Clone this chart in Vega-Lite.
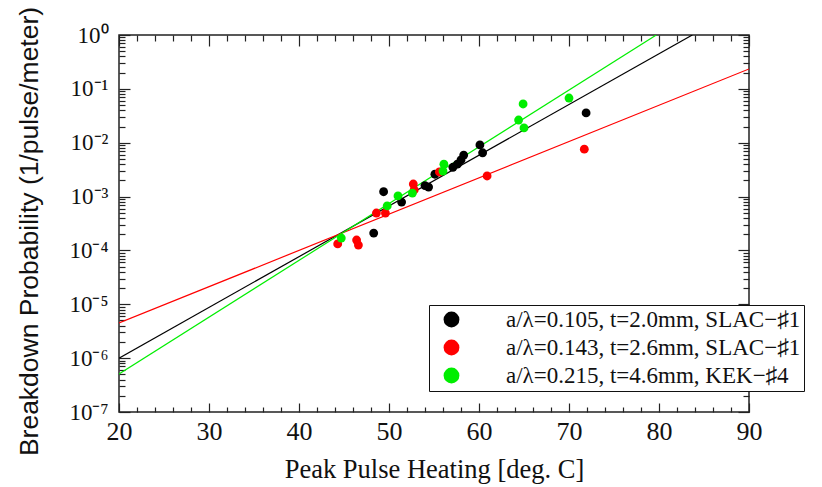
{
  "$schema": "https://vega.github.io/schema/vega-lite/v6.json",
  "width": 630,
  "height": 377,
  "autosize": {"type": "none"},
  "padding": {"left": 119, "top": 35, "right": 73, "bottom": 75},
  "background": "white",
  "config": {
    "view": {"stroke": "#222", "strokeWidth": 1.5},
    "axis": {"grid": false, "domain": false, "labelFlush": false, "tickColor": "#222", "tickWidth": 1.2, "labelFont": "Liberation Serif", "labelColor": "#111", "labelFontSize": 23, "titleColor": "#111", "titleFontWeight": "normal"},
    "style": {"guide-label": {"font": "Liberation Serif"}}
  },
  "datasets": {
    "fits": [
      {"series": "a/λ=0.105, t=2.0mm, SLAC−♯1", "temp": 20, "prob": 1.0e-6},
      {"series": "a/λ=0.105, t=2.0mm, SLAC−♯1", "temp": 83.7, "prob": 1},
      {"series": "a/λ=0.143, t=2.6mm, SLAC−♯1", "temp": 20, "prob": 4.5e-6},
      {"series": "a/λ=0.143, t=2.6mm, SLAC−♯1", "temp": 90, "prob": 0.234},
      {"series": "a/λ=0.215, t=4.6mm, KEK−♯4", "temp": 20, "prob": 5.1e-7},
      {"series": "a/λ=0.215, t=4.6mm, KEK−♯4", "temp": 79.7, "prob": 1}
    ],
    "pts": [
      {"series": "a/λ=0.105, t=2.0mm, SLAC−♯1", "temp": 48.3, "prob": 2.1e-4},
      {"series": "a/λ=0.105, t=2.0mm, SLAC−♯1", "temp": 49.4, "prob": 1.23e-3},
      {"series": "a/λ=0.105, t=2.0mm, SLAC−♯1", "temp": 51.4, "prob": 7.9e-4},
      {"series": "a/λ=0.105, t=2.0mm, SLAC−♯1", "temp": 54.0, "prob": 1.6e-3},
      {"series": "a/λ=0.105, t=2.0mm, SLAC−♯1", "temp": 54.4, "prob": 1.5e-3},
      {"series": "a/λ=0.105, t=2.0mm, SLAC−♯1", "temp": 55.1, "prob": 2.6e-3},
      {"series": "a/λ=0.105, t=2.0mm, SLAC−♯1", "temp": 57.1, "prob": 3.5e-3},
      {"series": "a/λ=0.105, t=2.0mm, SLAC−♯1", "temp": 57.6, "prob": 4.0e-3},
      {"series": "a/λ=0.105, t=2.0mm, SLAC−♯1", "temp": 58.0, "prob": 4.8e-3},
      {"series": "a/λ=0.105, t=2.0mm, SLAC−♯1", "temp": 58.3, "prob": 5.9e-3},
      {"series": "a/λ=0.105, t=2.0mm, SLAC−♯1", "temp": 60.1, "prob": 9.1e-3},
      {"series": "a/λ=0.105, t=2.0mm, SLAC−♯1", "temp": 60.4, "prob": 6.5e-3},
      {"series": "a/λ=0.105, t=2.0mm, SLAC−♯1", "temp": 71.9, "prob": 0.0357},
      {"series": "a/λ=0.143, t=2.6mm, SLAC−♯1", "temp": 44.3, "prob": 1.32e-4},
      {"series": "a/λ=0.143, t=2.6mm, SLAC−♯1", "temp": 46.4, "prob": 1.56e-4},
      {"series": "a/λ=0.143, t=2.6mm, SLAC−♯1", "temp": 46.6, "prob": 1.26e-4},
      {"series": "a/λ=0.143, t=2.6mm, SLAC−♯1", "temp": 48.6, "prob": 4.95e-4},
      {"series": "a/λ=0.143, t=2.6mm, SLAC−♯1", "temp": 49.6, "prob": 4.95e-4},
      {"series": "a/λ=0.143, t=2.6mm, SLAC−♯1", "temp": 52.7, "prob": 1.71e-3},
      {"series": "a/λ=0.143, t=2.6mm, SLAC−♯1", "temp": 52.8, "prob": 1.33e-3},
      {"series": "a/λ=0.143, t=2.6mm, SLAC−♯1", "temp": 55.6, "prob": 2.86e-3},
      {"series": "a/λ=0.143, t=2.6mm, SLAC−♯1", "temp": 60.9, "prob": 2.41e-3},
      {"series": "a/λ=0.143, t=2.6mm, SLAC−♯1", "temp": 71.7, "prob": 7.6e-3},
      {"series": "a/λ=0.215, t=4.6mm, KEK−♯4", "temp": 44.7, "prob": 1.7e-4},
      {"series": "a/λ=0.215, t=4.6mm, KEK−♯4", "temp": 49.8, "prob": 6.7e-4},
      {"series": "a/λ=0.215, t=4.6mm, KEK−♯4", "temp": 51.0, "prob": 1.03e-3},
      {"series": "a/λ=0.215, t=4.6mm, KEK−♯4", "temp": 52.6, "prob": 1.16e-3},
      {"series": "a/λ=0.215, t=4.6mm, KEK−♯4", "temp": 56.0, "prob": 2.98e-3},
      {"series": "a/λ=0.215, t=4.6mm, KEK−♯4", "temp": 56.1, "prob": 4.0e-3},
      {"series": "a/λ=0.215, t=4.6mm, KEK−♯4", "temp": 64.4, "prob": 0.0264},
      {"series": "a/λ=0.215, t=4.6mm, KEK−♯4", "temp": 64.9, "prob": 0.0524},
      {"series": "a/λ=0.215, t=4.6mm, KEK−♯4", "temp": 65.0, "prob": 0.0188},
      {"series": "a/λ=0.215, t=4.6mm, KEK−♯4", "temp": 70.0, "prob": 0.0676}
    ]
  },
  "layer": [
    {
      "data": {"name": "fits"},
      "mark": {"type": "line", "strokeWidth": 1.2, "clip": true},
      "encoding": {
        "x": {"field": "temp", "type": "quantitative", "scale": {"domain": [20, 90], "nice": false},
          "axis": {"orient": "bottom", "values": [20, 30, 40, 50, 60, 70, 80, 90], "tickSize": -9, "labelPadding": 15, "labelFlush": false, "labelFont": "Liberation Serif", "labelFontSize": 26,
            "title": "Peak Pulse Heating [deg. C]", "titleFont": "Liberation Serif", "titleFontSize": 26.5, "titleX": 315, "titleY": 57, "titleBaseline": "middle"}},
        "y": {"field": "prob", "type": "quantitative", "scale": {"type": "log", "domain": [1e-7, 1], "nice": false},
          "axis": {"orient": "left", "values": [1e-7, 1e-6, 1e-5, 1e-4, 1e-3, 1e-2, 1e-1, 1], "tickSize": -11, "labelPadding": 22, "labelFlush": false, "labelFont": "Liberation Serif", "labelFontSize": 23,
            "labelExpr": "['10⁰','10⁻¹','10⁻²','10⁻³','10⁻⁴','10⁻⁵','10⁻⁶','10⁻⁷'][round(-log(datum.value)/LN10)]",
            "title": "Breakdown Probability (1/pulse/meter)", "titleFont": "Liberation Sans", "titleFontSize": 26.5, "titleX": -90, "titleY": 196, "titleBaseline": "middle"}},
        "color": {"field": "series", "type": "nominal",
          "scale": {"domain": ["a/λ=0.105, t=2.0mm, SLAC−♯1", "a/λ=0.143, t=2.6mm, SLAC−♯1", "a/λ=0.215, t=4.6mm, KEK−♯4"], "range": ["#000000", "#ff0000", "#00ee00"]},
          "legend": null}
      }
    },
    {
      "data": {"name": "pts"},
      "mark": {"type": "circle", "size": 78, "opacity": 1},
      "encoding": {
        "x": {"field": "temp", "type": "quantitative",
          "axis": {"orient": "bottom", "values": [22, 24, 26, 28, 32, 34, 36, 38, 42, 44, 46, 48, 52, 54, 56, 58, 62, 64, 66, 68, 72, 74, 76, 78, 82, 84, 86, 88], "tickSize": -5, "labels": false, "title": null}},
        "y": {"field": "prob", "type": "quantitative",
          "axis": {"orient": "left", "values": [2e-7, 3e-7, 4e-7, 5e-7, 6e-7, 7e-7, 8e-7, 9e-7, 2e-6, 3e-6, 4e-6, 5e-6, 6e-6, 7e-6, 8e-6, 9e-6, 2e-5, 3e-5, 4e-5, 5e-5, 6e-5, 7e-5, 8e-5, 9e-5, 2e-4, 3e-4, 4e-4, 5e-4, 6e-4, 7e-4, 8e-4, 9e-4, 2e-3, 3e-3, 4e-3, 5e-3, 6e-3, 7e-3, 8e-3, 9e-3, 0.02, 0.03, 0.04, 0.05, 0.06, 0.07, 0.08, 0.09, 0.2, 0.3, 0.4, 0.5, 0.6, 0.7, 0.8, 0.9], "tickSize": -6, "labels": false, "title": null}},
        "color": {"field": "series", "type": "nominal",
          "scale": {"domain": ["a/λ=0.105, t=2.0mm, SLAC−♯1", "a/λ=0.143, t=2.6mm, SLAC−♯1", "a/λ=0.215, t=4.6mm, KEK−♯4"], "range": ["#000000", "#ff0000", "#00ee00"]},
          "legend": {"orient": "none", "legendX": 310, "legendY": 270, "title": null, "labelFont": "Liberation Serif", "labelFontSize": 23, "labelColor": "#111",
            "symbolType": "circle", "symbolSize": 250, "symbolStrokeWidth": 0, "labelOffset": 43, "symbolOffset": 8, "padding": 3, "rowPadding": 4,
            "strokeColor": "#111", "fillColor": "white", "labelLimit": 500}}
      }
    },
    {
      "data": {"name": "pts"},
      "mark": {"type": "circle", "opacity": 0},
      "encoding": {
        "x": {"field": "temp", "type": "quantitative",
          "axis": {"orient": "top", "values": [20, 30, 40, 50, 60, 70, 80, 90], "tickSize": -11, "labels": false, "title": null}},
        "y": {"field": "prob", "type": "quantitative",
          "axis": {"orient": "right", "values": [1e-7, 1e-6, 1e-5, 1e-4, 1e-3, 1e-2, 1e-1, 1], "tickSize": -11, "labels": false, "title": null}}
      }
    },
    {
      "data": {"name": "pts"},
      "mark": {"type": "circle", "opacity": 0},
      "encoding": {
        "x": {"field": "temp", "type": "quantitative",
          "axis": {"orient": "top", "values": [22, 24, 26, 28, 32, 34, 36, 38, 42, 44, 46, 48, 52, 54, 56, 58, 62, 64, 66, 68, 72, 74, 76, 78, 82, 84, 86, 88], "tickSize": -6, "labels": false, "title": null}},
        "y": {"field": "prob", "type": "quantitative",
          "axis": {"orient": "right", "values": [2e-7, 3e-7, 4e-7, 5e-7, 6e-7, 7e-7, 8e-7, 9e-7, 2e-6, 3e-6, 4e-6, 5e-6, 6e-6, 7e-6, 8e-6, 9e-6, 2e-5, 3e-5, 4e-5, 5e-5, 6e-5, 7e-5, 8e-5, 9e-5, 2e-4, 3e-4, 4e-4, 5e-4, 6e-4, 7e-4, 8e-4, 9e-4, 2e-3, 3e-3, 4e-3, 5e-3, 6e-3, 7e-3, 8e-3, 9e-3, 0.02, 0.03, 0.04, 0.05, 0.06, 0.07, 0.08, 0.09, 0.2, 0.3, 0.4, 0.5, 0.6, 0.7, 0.8, 0.9], "tickSize": -6, "labels": false, "title": null}}
      }
    }
  ],
  "resolve": {"scale": {"color": "independent"}, "axis": {"x": "independent", "y": "independent"}}
}
